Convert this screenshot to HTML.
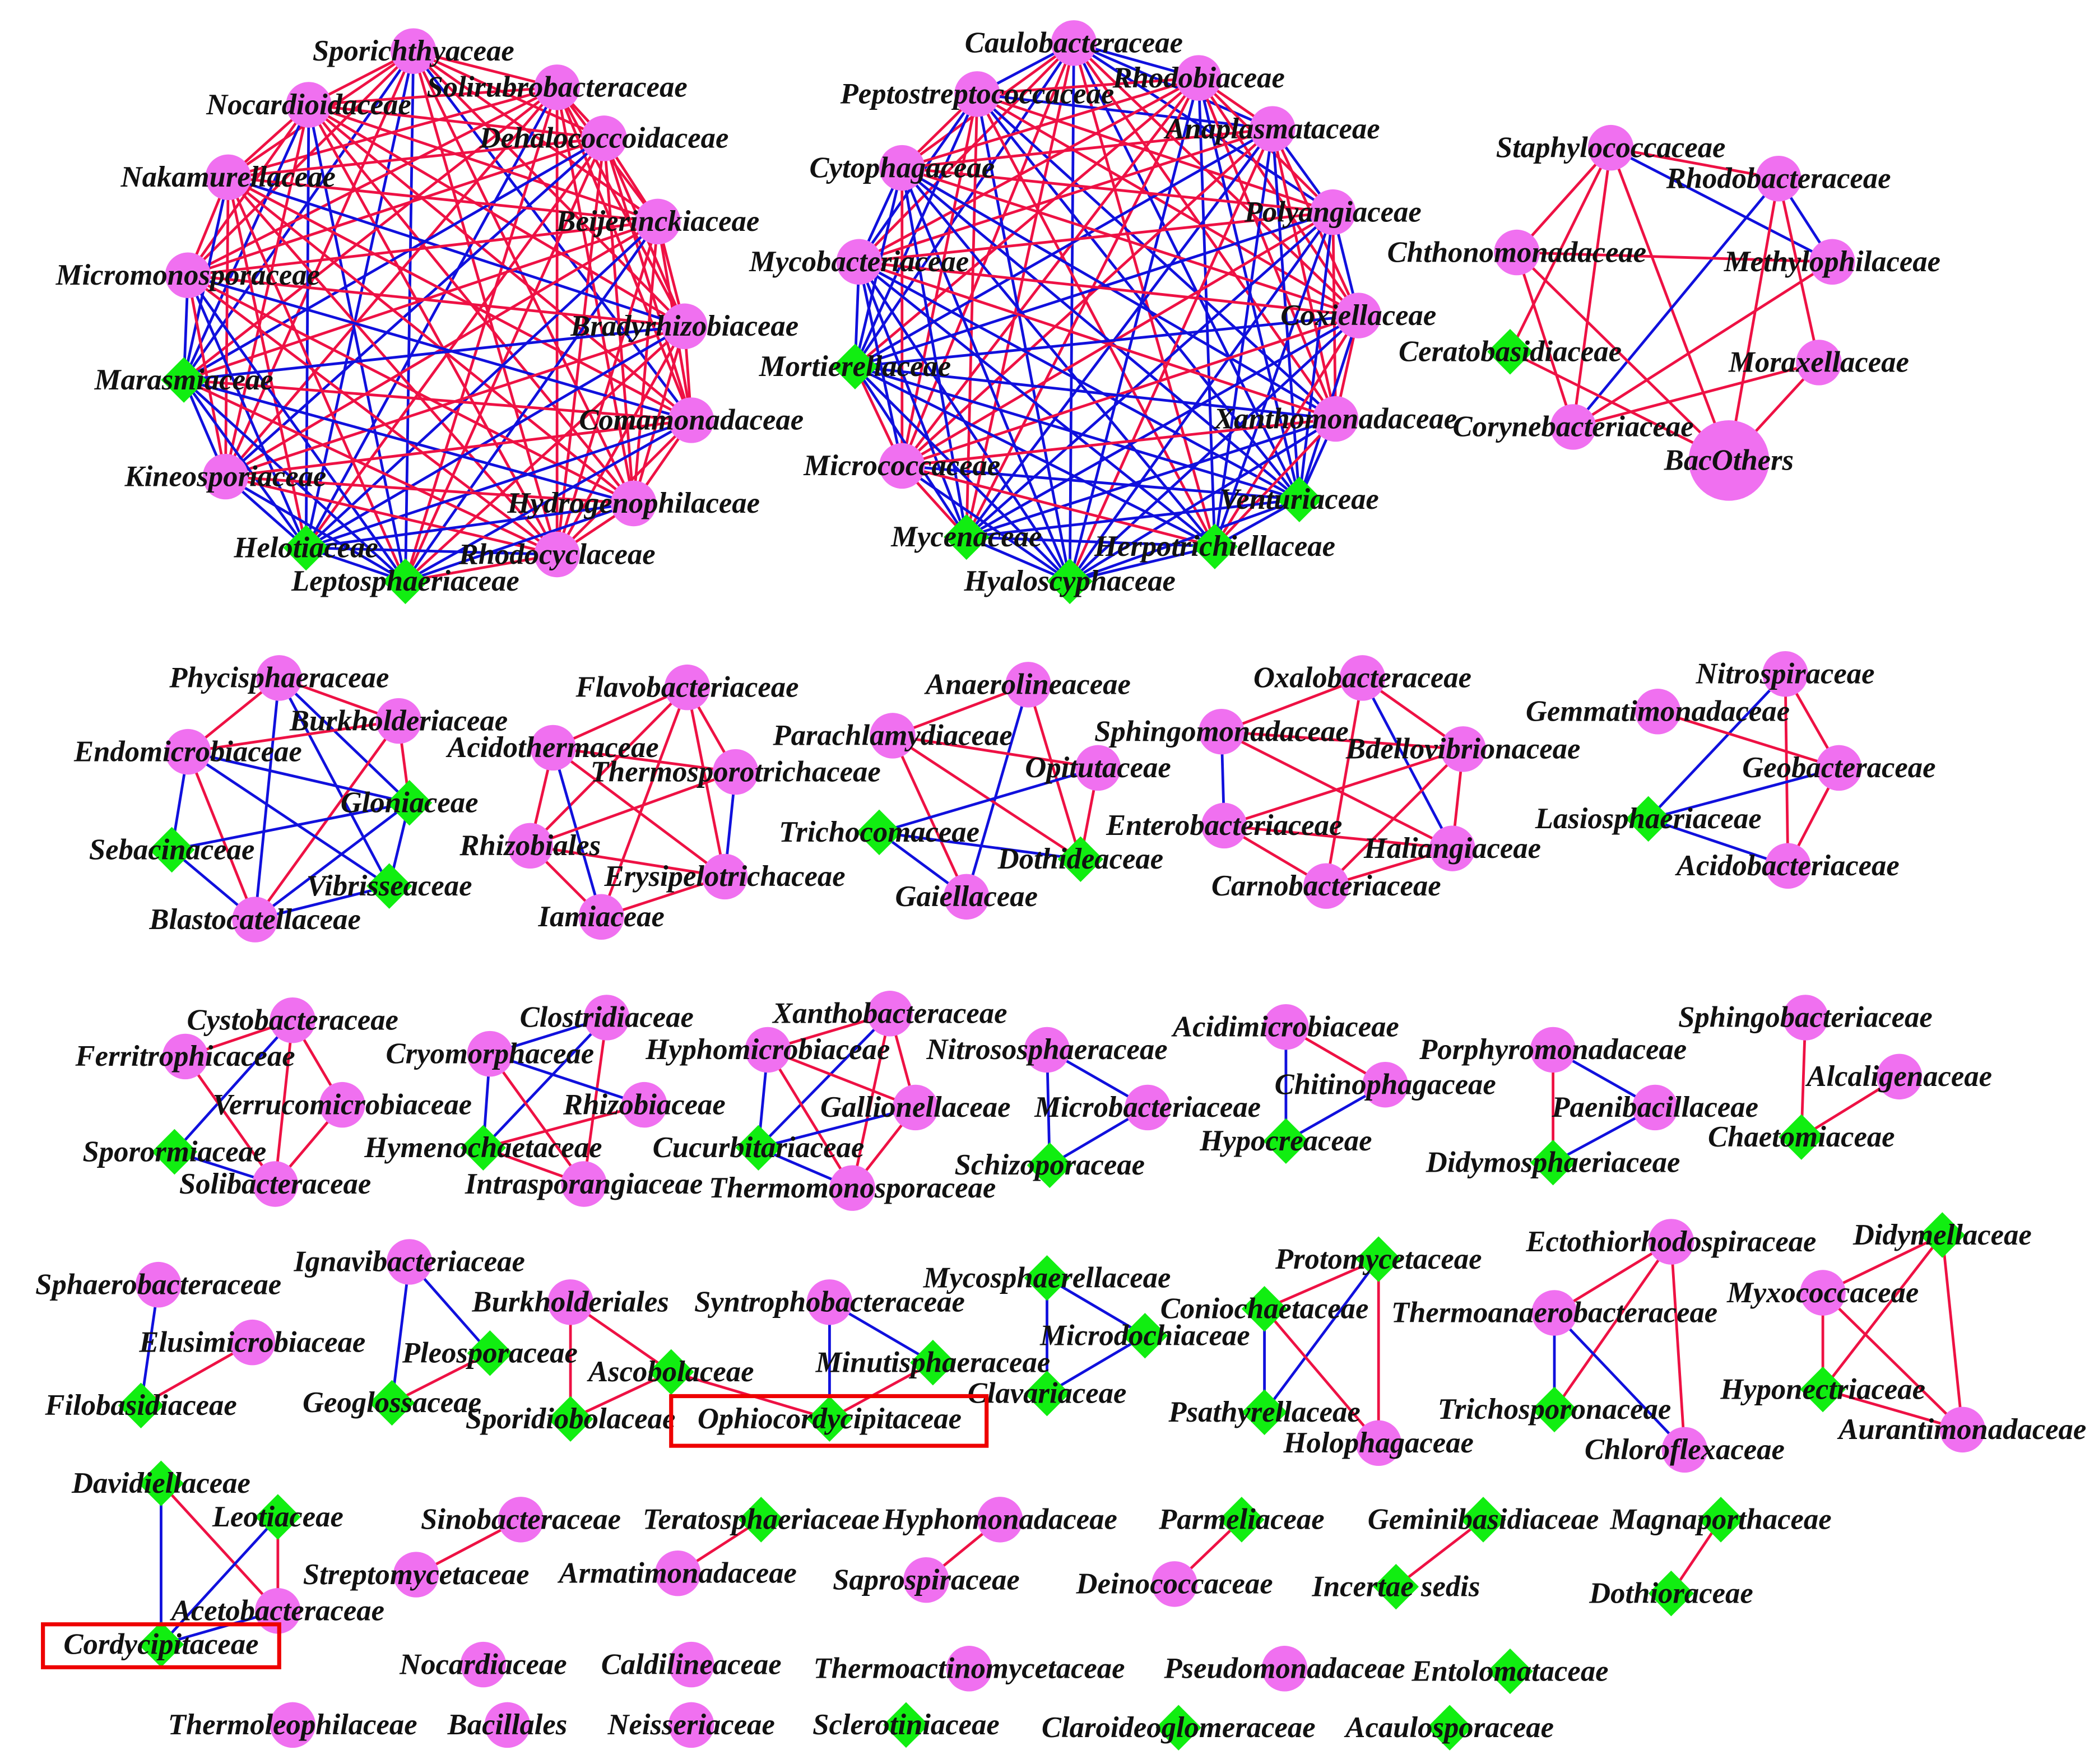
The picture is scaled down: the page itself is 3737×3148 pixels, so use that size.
<!DOCTYPE html>
<html><head><meta charset="utf-8"><style>
html,body{margin:0;padding:0;background:#fff}
svg{display:block}
text{font-family:"Liberation Serif",serif;font-weight:bold;font-style:italic;font-size:22px;fill:#111;text-anchor:middle}
</style></head><body>
<svg id="s" width="3737" height="3148" viewBox="0 0 1560 1314" xmlns="http://www.w3.org/2000/svg">
<g id="e"></g><g id="n"></g><g id="t"></g>
<rect x="500" y="1040" width="235" height="37" fill="none" stroke="#e00" stroke-width="3"/>
<rect x="32" y="1210" width="176" height="32" fill="none" stroke="#e00" stroke-width="3"/>
</svg>
<script>
var R="#ee1144",B="#1010dd";
var clusters=[
 {d:1,n:[["Sporichthyaceae",308,38],["Solirubrobacteraceae",415,65],["Nocardioidaceae",230,78],["Dehalococcoidaceae",450,103],["Nakamurellaceae",170,132],["Beijerinckiaceae",490,165],["Micromonosporaceae",140,205],["Bradyrhizobiaceae",510,243],["Marasmiaceae",137,283,"d"],["Comamonadaceae",515,313],["Kineosporiaceae",168,355],["Hydrogenophilaceae",472,375],["Helotiaceae",228,408,"d"],["Rhodocyclaceae",415,413],["Leptosphaeriaceae",302,433,"d"]]},
 {d:1,n:[["Caulobacteraceae",800,32],["Peptostreptococcaceae",728,70],["Rhodobiaceae",893,58],["Anaplasmataceae",948,96],["Cytophagaceae",672,125],["Polyangiaceae",993,158],["Mycobacteriaceae",640,195],["Coxiellaceae",1012,235],["Mortierellaceae",637,273,"d"],["Xanthomonadaceae",995,312],["Micrococcaceae",672,347],["Venturiaceae",968,372,"d"],["Mycenaceae",720,400,"d"],["Herpotrichiellaceae",905,407,"d"],["Hyaloscyphaceae",797,433,"d"]]},
 {d:.8,n:[["Staphylococcaceae",1200,110],["Rhodobacteraceae",1325,133],["Chthonomonadaceae",1130,188],["Methylophilaceae",1365,195],["Ceratobasidiaceae",1125,262,"d"],["Moraxellaceae",1355,270],["Corynebacteriaceae",1172,318],["BacOthers",1288,343,"c",30]]},
 {d:.75,n:[["Phycisphaeraceae",208,505],["Burkholderiaceae",297,537],["Endomicrobiaceae",140,560],["Gloniaceae",305,598,"d"],["Sebacinaceae",128,633,"d"],["Vibrisseaceae",290,660,"d"],["Blastocatellaceae",190,685]]},
 {d:.7,n:[["Flavobacteriaceae",512,512],["Acidothermaceae",412,557],["Thermosporotrichaceae",548,575],["Rhizobiales",395,630],["Erysipelotrichaceae",540,653],["Iamiaceae",448,683]]},
 {d:.75,n:[["Anaerolineaceae",766,510],["Parachlamydiaceae",665,548],["Opitutaceae",818,572],["Trichocomaceae",655,620,"d"],["Dothideaceae",805,640,"d"],["Gaiellaceae",720,668]]},
 {d:.75,n:[["Oxalobacteraceae",1015,505],["Sphingomonadaceae",910,545],["Bdellovibrionaceae",1090,558],["Enterobacteriaceae",912,615],["Haliangiaceae",1082,632],["Carnobacteriaceae",988,660]]},
 {d:.7,n:[["Nitrospiraceae",1330,502],["Gemmatimonadaceae",1235,530],["Geobacteraceae",1370,572],["Lasiosphaeriaceae",1228,610,"d"],["Acidobacteriaceae",1332,645]]},
 {d:.8,n:[["Cystobacteraceae",218,760],["Ferritrophicaceae",138,787],["Verrucomicrobiaceae",255,823],["Sporormiaceae",130,858,"d"],["Solibacteraceae",205,882]]},
 {d:.8,n:[["Clostridiaceae",452,758],["Cryomorphaceae",365,785],["Rhizobiaceae",480,823],["Hymenochaetaceae",360,855,"d"],["Intrasporangiaceae",435,882]]},
 {d:.8,n:[["Xanthobacteraceae",663,755],["Hyphomicrobiaceae",572,782],["Gallionellaceae",682,825],["Cucurbitariaceae",565,855,"d"],["Thermomonosporaceae",635,885]]}
];
var extra=[
 [["Nitrososphaeraceae",780,782],["Microbacteriaceae",855,825],["Schizoporaceae",782,868,"d"],[[0,1,B],[1,2,B],[0,2,B]]],
 [["Acidimicrobiaceae",958,765],["Chitinophagaceae",1032,808],["Hypocreaceae",958,850,"d"],[[0,1,R],[0,2,B],[1,2,B]]],
 [["Porphyromonadaceae",1157,782],["Paenibacillaceae",1233,825],["Didymosphaeriaceae",1157,866,"d"],[[0,1,B],[0,2,R],[1,2,B]]],
 [["Sphingobacteriaceae",1345,758],["Alcaligenaceae",1415,802],["Chaetomiaceae",1342,847,"d"],[[0,2,R],[1,2,R]]],
 [["Sphaerobacteraceae",118,957],["Elusimicrobiaceae",188,1000],["Filobasidiaceae",105,1047,"d"],[[0,2,B],[1,2,R]]],
 [["Ignavibacteriaceae",305,940],["Pleosporaceae",365,1008,"d"],["Geoglossaceae",292,1045,"d"],[[0,1,B],[0,2,B],[1,2,R]]],
 [["Burkholderiales",425,970],["Ascobolaceae",500,1022,"d"],["Sporidiobolaceae",425,1057,"d"],["Ophiocordycipitaceae",618,1057,"d"],["Syntrophobacteraceae",618,970],["Minutisphaeraceae",695,1015,"d"],[[0,1,R],[0,2,R],[1,2,R],[1,3,R],[4,3,B],[4,5,B],[5,3,R]]],
 [["Mycosphaerellaceae",780,952,"d"],["Microdochiaceae",853,995,"d"],["Clavariaceae",780,1038,"d"],[[0,1,B],[1,2,B],[0,2,B]]],
 [["Protomycetaceae",1027,938,"d"],["Coniochaetaceae",942,975,"d"],["Psathyrellaceae",942,1052,"d"],["Holophagaceae",1027,1075],[[0,1,R],[1,2,B],[0,2,B],[0,3,R],[1,3,R]]],
 [["Ectothiorhodospiraceae",1245,925],["Thermoanaerobacteraceae",1158,978],["Trichosporonaceae",1158,1050,"d"],["Chloroflexaceae",1255,1080],[[0,1,R],[1,2,B],[0,2,R],[0,3,R],[1,3,B]]],
 [["Didymellaceae",1447,920,"d"],["Myxococcaceae",1358,963],["Hyponectriaceae",1358,1035,"d"],["Aurantimonadaceae",1462,1065],[[0,1,R],[1,2,R],[0,2,R],[0,3,R],[1,3,R],[2,3,R]]],
 [["Davidiellaceae",120,1105,"d"],["Leotiaceae",207,1130,"d"],["Acetobacteraceae",207,1200],["Cordycipitaceae",120,1225,"d"],[[0,3,B],[0,2,R],[1,2,R],[1,3,B],[2,3,B]]],
 [["Sinobacteraceae",388,1132],["Streptomycetaceae",310,1173],[[0,1,R]]],
 [["Teratosphaeriaceae",567,1132,"d"],["Armatimonadaceae",505,1172],[[0,1,R]]],
 [["Hyphomonadaceae",745,1132],["Saprospiraceae",690,1177],[[0,1,R]]],
 [["Parmeliaceae",925,1132,"d"],["Deinococcaceae",875,1180],[[0,1,R]]],
 [["Geminibasidiaceae",1105,1132,"d"],["Incertae sedis",1040,1182,"d"],[[0,1,R]]],
 [["Magnaporthaceae",1282,1132,"d"],["Dothioraceae",1245,1187,"d"],[[0,1,R]]],
 [["Nocardiaceae",360,1240],["Caldilineaceae",515,1240],["Thermoactinomycetaceae",722,1243],["Pseudomonadaceae",957,1243],["Entolomataceae",1125,1245,"d"],["Thermoleophilaceae",218,1285],["Bacillales",378,1285],["Neisseriaceae",515,1285],["Sclerotiniaceae",675,1285,"d"],["Claroideoglomeraceae",878,1287,"d"],["Acaulosporaceae",1080,1287,"d"],[]]
];
var E=document.getElementById("e"),N=document.getElementById("n"),T=document.getElementById("t"),ns="http://www.w3.org/2000/svg";
function el(g,tag,a,txt){var x=document.createElementNS(ns,tag);for(var k in a)x.setAttribute(k,a[k]);if(txt)x.textContent=txt;g.appendChild(x);}
function line(a,b,c){el(E,"line",{x1:a[1],y1:a[2],x2:b[1],y2:b[2],stroke:c,"stroke-width":2});}
var seed=7;function rnd(){seed=(seed*16807)%2147483647;return seed/2147483647;}
var all=[];
clusters.forEach(function(c){var n=c.n;for(var i=0;i<n.length;i++)for(var j=i+1;j<n.length;j++){if(rnd()>c.d)continue;var f=n[i][3]=="d"||n[j][3]=="d";line(n[i],n[j],rnd()<(f?0.8:0.15)?B:R);}all=all.concat(n);});
extra.forEach(function(g){var ed=g[g.length-1];var n=g.slice(0,-1);ed.forEach(function(e){line(n[e[0]],n[e[1]],e[2]);});all=all.concat(n);});
all.forEach(function(n){var x=n[1],y=n[2];if(n[3]=="d"){var r=17;el(N,"polygon",{points:(x)+","+(y-r)+" "+(x+r)+","+y+" "+x+","+(y+r)+" "+(x-r)+","+y,fill:"#11ee11"});}else el(N,"circle",{cx:x,cy:y,r:n[4]||17,fill:"#f070f0"});el(T,"text",{x:x,y:y+7},n[0]);});
</script>
</body></html>
